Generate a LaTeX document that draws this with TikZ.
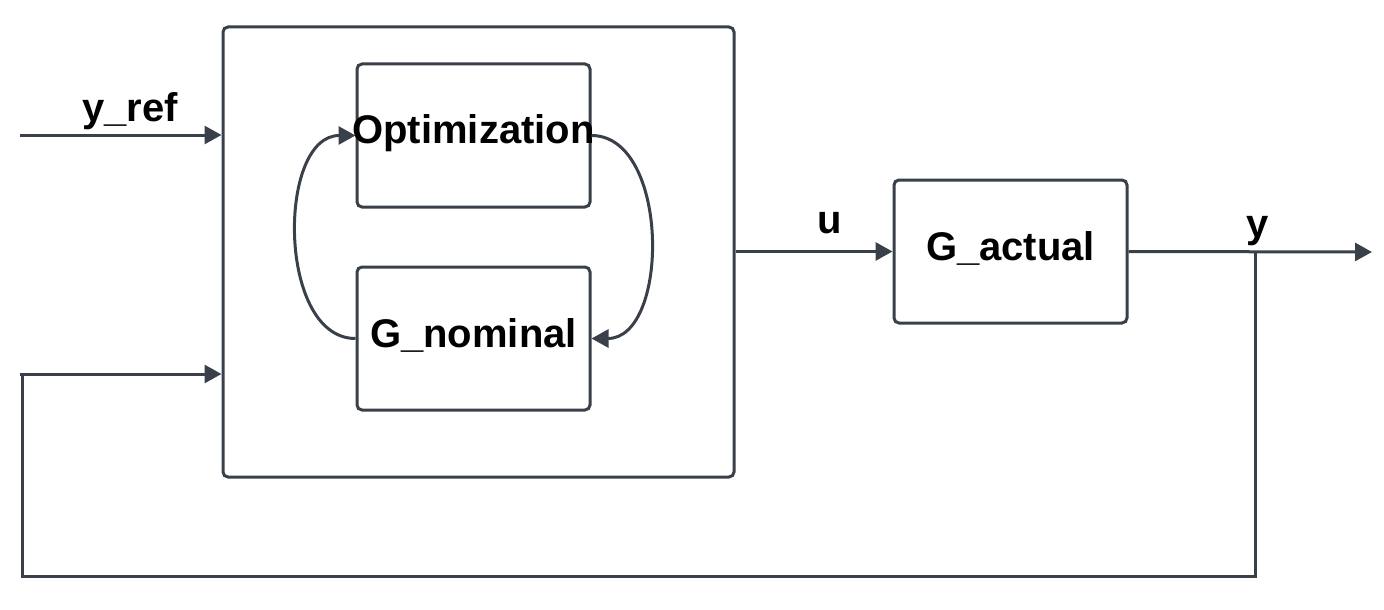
\documentclass[tikz,border=0pt]{standalone}
\usepackage{fontspec}
\setmainfont{Liberation Sans}
\usetikzlibrary{arrows.meta}
\definecolor{ln}{HTML}{3A4049}
\begin{document}
\begin{tikzpicture}[x=1pt,y=-1pt,
  blk/.style={draw=ln,line width=3pt,rounded corners=5pt,inner sep=0pt,font=\fontsize{40}{47}\selectfont\bfseries},
  lbl/.style={inner sep=0pt,font=\fontsize{40}{47}\selectfont\bfseries},
  arr/.style={draw=ln,line width=3pt,-{Triangle[length=17pt,width=18pt]}},
  ln/.style={draw=ln,line width=3pt}]
\useasboundingbox (0,0) rectangle (1384,610);
\node[blk,minimum width=511pt,minimum height=450pt] (outer) at (478.5,252) {};
\node[blk,minimum width=233pt,minimum height=143pt] (opt) at (473.5,135.5) {};
\node[lbl] (optt) at (473.5,133) {Optimization};
\node[blk,minimum width=233pt,minimum height=143pt] (gnom) at (473.5,338.5) {};
\node[lbl] (gnomt) at (473.5,335) {G\_nominal};
\node[blk,minimum width=233pt,minimum height=143pt] (gact) at (1010.5,251.5) {};
\node[lbl] (gactt) at (1010.5,248) {G\_actual};
\node[lbl] (yref) at (130,111) {y\_ref};
\node[lbl] (ulbl) at (830,223) {u};
\node[lbl] (ylbl) at (1258,231) {y};
\coordinate (yrefin) at (20,135);
\coordinate (fbin) at (20,374);
\coordinate (fbcorner) at (22,576);
\coordinate (br) at (1255,252);
\coordinate (yout) at (1372,252);
% curves
\draw[arr] (opt.east) .. controls (670,135.5) and (670,338.5) .. (gnom.east);
\draw[arr] (gnom.west) .. controls (277,338.5) and (277,135.5) .. (opt.west);
% inputs
\draw[arr] (yrefin) -- (outer.west|-yrefin);
\draw[arr] (fbin) -- (outer.west|-fbin);
\draw[arr] (outer.east|-gact.west) -- (gact.west);
\draw[arr] (gact.east) -- (yout);
\draw[ln] (br) |- (fbcorner) -- (22,374);
\end{tikzpicture}
\end{document}
